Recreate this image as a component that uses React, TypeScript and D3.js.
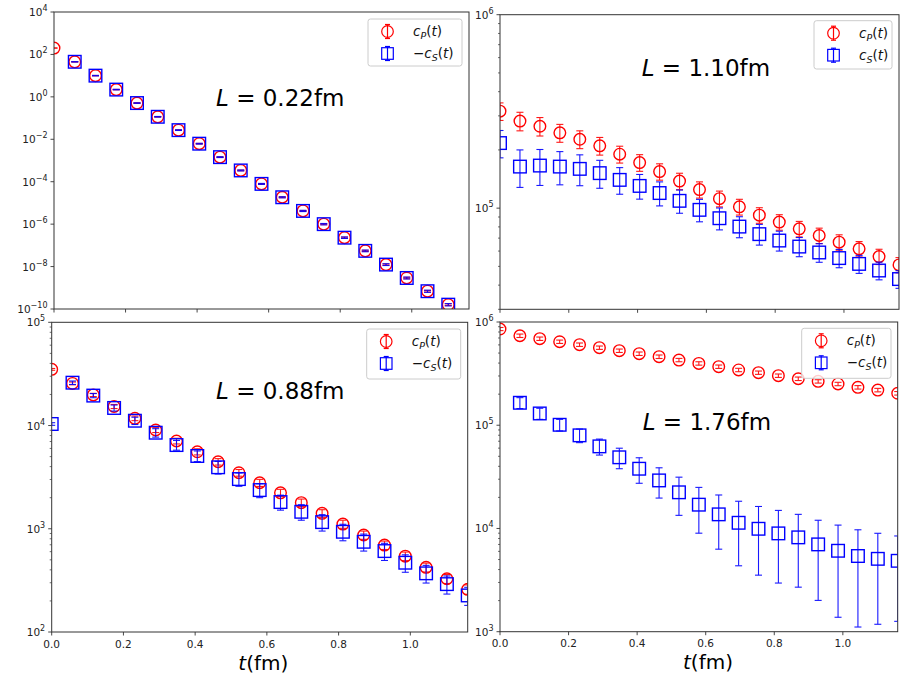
import React, { useEffect, useRef } from 'react';
import * as d3 from 'd3';

// Euclidean time slices (fm)
const tFm = [0.0, 0.058, 0.116, 0.174, 0.232, 0.29, 0.348, 0.406, 0.464, 0.522, 0.58,
  0.638, 0.696, 0.754, 0.812, 0.87, 0.928, 0.986, 1.044, 1.102, 1.16];

// L = 0.22 fm
const cP022 = [200, 45, 10, 2.2, 0.51, 0.115, 0.027, 0.0062, 0.00144, 3.4e-4, 7.9e-5,
  1.85e-5, 4.2e-6, 1.0e-6, 2.3e-7, 5.5e-8, 1.24e-8, 2.9e-9, 6.9e-10, 1.6e-10, 3.7e-11];
const cP022Err = [4, 0.9, 0.2, 0.05, 0.012, 0.003, 8e-4, 2e-4, 5e-5, 1.3e-5, 3.2e-6,
  8e-7, 2e-7, 5.5e-8, 1.4e-8, 3.6e-9, 9e-10, 2.3e-10, 6e-11, 1.5e-11, 4e-12];
const cS022 = [null, 45, 10, 2.2, 0.51, 0.115, 0.027, 0.0062, 0.00144, 3.4e-4, 7.9e-5,
  1.85e-5, 4.2e-6, 1.0e-6, 2.3e-7, 5.5e-8, 1.24e-8, 2.9e-9, 6.9e-10, 1.6e-10, 3.7e-11];
const cS022Err = [null, 1, 0.25, 0.06, 0.015, 0.004, 1e-3, 2.5e-4, 6.5e-5, 1.7e-5, 4.2e-6,
  1.1e-6, 2.8e-7, 7.5e-8, 1.9e-8, 5e-9, 1.2e-9, 3e-10, 8e-11, 2e-11, 5e-12];

// L = 1.10 fm
const cP110 = [317000, 282000, 265000, 245000, 227000, 210000, 190000, 172000, 154500, 138000, 124700,
  112000, 101600, 92000, 84700, 78200, 72200, 66700, 61600, 56200, 50900];
const cP110Err = [33000, 31000, 29000, 26000, 24000, 22000, 19000, 17000, 15000, 13500, 12000,
  10500, 9500, 8500, 7800, 7200, 6600, 6100, 5600, 5100, 4600];
const cS110 = [217000, 164000, 166000, 164000, 159600, 151700, 140000, 130300, 119700, 109100, 98000,
  88700, 80300, 73400, 68000, 63300, 59000, 55200, 51500, 47600, 43000];
const cS110Err = [35000, 36000, 35000, 32000, 29000, 25000, 22000, 19000, 17000, 15000, 13000,
  11500, 10000, 9000, 8000, 7200, 6500, 6000, 5500, 5000, 4500];

// L = 0.88 fm
const cP088 = [35000, 25600, 19800, 15300, 11750, 9050, 7080, 5570, 4460, 3490, 2790,
  2230, 1790, 1410, 1110, 870, 695, 543, 423, 328, 259];
const cP088Err = [700, 800, 700, 700, 600, 500, 450, 380, 320, 260, 220,
  180, 150, 120, 100, 80, 65, 52, 42, 33, 27];
const cS088 = [10350, 26000, 19500, 14800, 11130, 8520, 6470, 5070, 3940, 3030, 2370,
  1815, 1460, 1160, 935, 748, 608, 469, 370, 291, 226];
const cS088Err = [300, 1000, 900, 1000, 900, 800, 700, 600, 550, 450, 370,
  300, 250, 210, 170, 140, 115, 90, 72, 58, 45];

// L = 1.76 fm
const cP176 = [855000, 736000, 689000, 644000, 603000, 564000, 527000, 493000, 461000, 428000, 397000,
  369000, 343000, 323000, 302000, 282000, 266000, 251000, 233000, 219000, 204000];
const cP176Err = [30000, 28000, 26000, 24000, 23000, 21000, 20000, 19000, 18000, 16000, 15000,
  14000, 13000, 12000, 11500, 11000, 10000, 9500, 9000, 8500, 8000];
const cS176 = [null, 165000, 130000, 101000, 79800, 62400, 48900, 37900, 29200, 22400, 17000,
  13700, 11350, 9930, 8960, 8200, 7010, 6080, 5410, 5080, 4860];
const cS176Err = [null, 20000, 16000, 13000, 12000, 11000, 11000, 10500, 9500, 9000, 8000,
  7400, 7000, 6400, 6000, 5500, 5000, 4700, 4300, 3900, 3600];

const xTicks = [0.0, 0.2, 0.4, 0.6, 0.8, 1.0];
const xTickLabels = ['0.0', '0.2', '0.4', '0.6', '0.8', '1.0'];
const tMax = 1.16;

const RED = '#ff0000';
const BLUE = '#0000ff';
const FONT = '"DejaVu Sans", sans-serif';

const panels = [
  {
    L: '0.22', box: [54, 12, 469, 309], yDomain: [1e-10, 1e4], majorStep: 2, minor: false,
    red: cP022, redErr: cP022Err, blue: cS022, blueErr: cS022Err, minus: true,
    title: [216, 106], legend: [368, 19, 94, 47], xlab: null,
  },
  {
    L: '1.10', box: [500, 14.7, 899, 309.3], yDomain: [3e4, 1e6], majorStep: 1, minor: true,
    red: cP110, redErr: cP110Err, blue: cS110, blueErr: cS110Err, minus: false,
    title: [641.7, 76], legend: [814, 20.7, 78, 48.3], xlab: null,
  },
  {
    L: '0.88', box: [51.7, 322.3, 467.7, 632], yDomain: [1e2, 1e5], majorStep: 1, minor: true,
    red: cP088, redErr: cP088Err, blue: cS088, blueErr: cS088Err, minus: true,
    title: [216, 399.3], legend: [366.7, 329, 94, 50], xlab: [263.3, 670],
  },
  {
    L: '1.76', box: [500, 322, 897.7, 631.7], yDomain: [1e3, 1e6], majorStep: 1, minor: true,
    red: cP176, redErr: cP176Err, blue: cS176, blueErr: cS176Err, minus: true,
    title: [642.7, 430], legend: [801.7, 328.3, 89.3, 50], xlab: [708, 669],
  },
];

const App: React.FC = () => {
  const svgRef = useRef<SVGSVGElement>(null);

  useEffect(() => {
    if (!svgRef.current) return;
    const svg = d3.select(svgRef.current);
    svg.selectAll('*').remove();
    const defs = svg.append('defs');

    const mathLabel = (sel: any, sub: string, minus: boolean) => {
      if (minus) sel.append('tspan').text('\u2212');
      sel.append('tspan').attr('font-style', 'italic').text('c');
      sel.append('tspan').attr('font-style', 'italic').attr('font-size', 9.5).attr('dy', 3).text(sub);
      sel.append('tspan').attr('dy', -3).text('(');
      sel.append('tspan').attr('font-style', 'italic').text('t');
      sel.append('tspan').text(')');
    };

    panels.forEach((p, idx) => {
      const [x0, y0, x1, y1] = p.box;
      const x = d3.scaleLinear().domain([0, tMax]).range([x0, x1]);
      const y = d3.scaleLog().domain(p.yDomain).range([y1, y0]);
      const g = svg.append('g').attr('font-family', FONT);

      const clipId = `clip-panel-${idx}`;
      defs.append('clipPath').attr('id', clipId)
        .append('rect').attr('x', x0).attr('y', y0).attr('width', x1 - x0).attr('height', y1 - y0);

      // y ticks
      const lo = Math.floor(Math.log10(p.yDomain[0]));
      const hi = Math.ceil(Math.log10(p.yDomain[1]));
      for (let e = lo; e <= hi; e++) {
        const v = Math.pow(10, e);
        if (v >= p.yDomain[0] * 0.999 && v <= p.yDomain[1] * 1.001 && e % p.majorStep === 0) {
          const yy = y(v);
          g.append('line').attr('x1', x0 - 3.5).attr('x2', x0).attr('y1', yy).attr('y2', yy)
            .attr('stroke', '#333').attr('stroke-width', 0.9);
          const t = g.append('text').attr('x', x0 - 6.5).attr('y', yy + 4)
            .attr('text-anchor', 'end').attr('font-size', 10.5).attr('fill', '#222');
          t.append('tspan').text('10');
          t.append('tspan').attr('font-size', 8).attr('dy', -5)
            .text(e < 0 ? `\u2212${-e}` : `${e}`);
        }
        if (p.minor) {
          for (let m = 2; m <= 9; m++) {
            const mv = m * v;
            if (mv >= p.yDomain[0] * 0.999 && mv <= p.yDomain[1]) {
              const yy = y(mv);
              g.append('line').attr('x1', x0 - 2).attr('x2', x0).attr('y1', yy).attr('y2', yy)
                .attr('stroke', '#333').attr('stroke-width', 0.7);
            }
          }
        }
      }

      // x ticks
      xTicks.forEach((tv, i) => {
        const xx = x(tv);
        g.append('line').attr('x1', xx).attr('x2', xx).attr('y1', y1).attr('y2', y1 + 3.5)
          .attr('stroke', '#333').attr('stroke-width', 0.9);
        if (p.xlab) {
          g.append('text').attr('x', xx).attr('y', y1 + 15.5).attr('text-anchor', 'middle')
            .attr('font-size', 10.5).attr('fill', '#222').text(xTickLabels[i]);
        }
      });

      // data
      const marks = g.append('g').attr('clip-path', `url(#${clipId})`);
      const series = [
        { vals: p.red, errs: p.redErr, color: RED, shape: 'circle' },
        { vals: p.blue, errs: p.blueErr, color: BLUE, shape: 'square' },
      ];
      series.forEach((s) => {
        const pts = tFm.map((t, i) => ({ t, v: s.vals[i], e: s.errs[i] }))
          .filter((d) => d.v !== null && d.v !== undefined) as { t: number; v: number; e: number }[];
        const bars = marks.append('g').attr('stroke', s.color).attr('stroke-width', 1.1).attr('opacity', 0.9);
        pts.forEach((d) => {
          const xx = x(d.t);
          const yTop = y(d.v + d.e);
          const yBot = y(Math.max(d.v - d.e, p.yDomain[0] * 1e-3));
          bars.append('line').attr('x1', xx).attr('x2', xx).attr('y1', yTop).attr('y2', yBot);
          bars.append('line').attr('x1', xx - 3.5).attr('x2', xx + 3.5).attr('y1', yTop).attr('y2', yTop);
          bars.append('line').attr('x1', xx - 3.5).attr('x2', xx + 3.5).attr('y1', yBot).attr('y2', yBot);
        });
        const mk = marks.append('g').attr('fill', 'none').attr('stroke', s.color).attr('stroke-width', 1.4);
        pts.forEach((d) => {
          if (s.shape === 'circle') {
            mk.append('circle').attr('cx', x(d.t)).attr('cy', y(d.v)).attr('r', 5.8);
          } else {
            mk.append('rect').attr('x', x(d.t) - 6.3).attr('y', y(d.v) - 6.3)
              .attr('width', 12.6).attr('height', 12.6);
          }
        });
      });

      // frame
      g.append('rect').attr('x', x0).attr('y', y0).attr('width', x1 - x0).attr('height', y1 - y0)
        .attr('fill', 'none').attr('stroke', '#333').attr('stroke-width', 1);

      // annotation
      const title = g.append('text').attr('x', p.title[0]).attr('y', p.title[1])
        .attr('font-size', 23).attr('fill', '#000');
      title.append('tspan').attr('font-style', 'italic').text('L');
      title.append('tspan').text(` = ${p.L}fm`);

      // legend
      const [lx, ly, lw, lh] = p.legend;
      const lg = g.append('g');
      lg.append('rect').attr('x', lx).attr('y', ly).attr('width', lw).attr('height', lh).attr('rx', 2.5)
        .attr('fill', 'white').attr('fill-opacity', 0.8).attr('stroke', '#cccccc').attr('stroke-width', 1);
      const rows = [
        { color: RED, shape: 'circle', sub: 'P', minus: false },
        { color: BLUE, shape: 'square', sub: 'S', minus: p.minus },
      ];
      rows.forEach((r, i) => {
        const ry = ly + 12.5 + i * 22;
        const mx = lx + 19.5;
        const h = lg.append('g').attr('stroke', r.color).attr('fill', 'none').attr('stroke-width', 1.2);
        h.append('line').attr('x1', mx).attr('x2', mx).attr('y1', ry - 7).attr('y2', ry + 7);
        h.append('line').attr('x1', mx - 2.5).attr('x2', mx + 2.5).attr('y1', ry + 7).attr('y2', ry + 7);
        h.append('line').attr('x1', mx - 2.5).attr('x2', mx + 2.5).attr('y1', ry - 7).attr('y2', ry - 7);
        if (r.shape === 'circle') h.append('circle').attr('cx', mx).attr('cy', ry).attr('r', 5.8);
        else h.append('rect').attr('x', mx - 5.8).attr('y', ry - 5.8).attr('width', 11.6).attr('height', 11.6);
        const txt = lg.append('text').attr('x', lx + 45).attr('y', ry + 4.5).attr('font-size', 13.5).attr('fill', '#111');
        mathLabel(txt, r.sub, r.minus);
      });

      // x label
      if (p.xlab) {
        const xl = g.append('text').attr('x', p.xlab[0]).attr('y', p.xlab[1])
          .attr('text-anchor', 'middle').attr('font-size', 20).attr('fill', '#000');
        xl.append('tspan').attr('font-style', 'italic').text('t');
        xl.append('tspan').text('(fm)');
      }
    });
  }, []);

  return (
    <svg ref={svgRef} width={912} height={675}
      style={{ position: 'absolute', left: 0, top: 0, background: 'white' }} />
  );
};

export default App;
